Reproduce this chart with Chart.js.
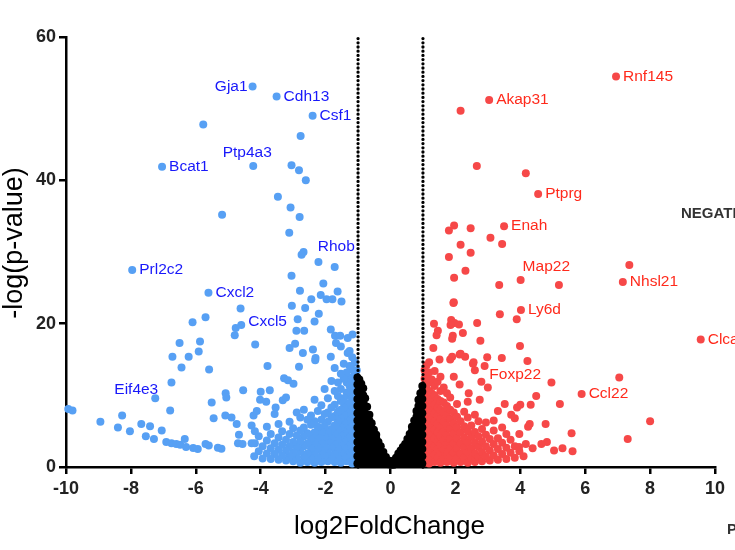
<!DOCTYPE html>
<html>
<head>
<meta charset="utf-8">
<script src="https://cdn.jsdelivr.net/npm/chart.js@4/dist/chart.umd.min.js"></script>
<style>
  html, body { margin: 0; padding: 0; background: #fff; }
  #wrap { width: 735px; height: 550px; }
</style>
</head>
<body>
<div id="wrap"><canvas id="volcano" width="735" height="550"></canvas></div>
<script>
// ---- data (log2FoldChange, -log(p-value)) ----
const xTicks = [-10, 10, 2];
const yTicks = [0, 60, 20];
const thresholds = [-1, 1];
const thresholdTop = 60;

// down-regulated, scattered points
const downPts = [
  [-4.25,53.1],[-3.51,51.7],[-2.40,49.0],[-5.77,47.8],[-2.77,46.2],[-7.04,41.9],[-4.23,42.0],
  [-3.05,42.1],[-2.82,41.4],[-2.61,40.0],[-3.47,37.7],[-5.19,35.2],[-3.08,36.2],[-2.80,34.9],
  [-3.12,32.7],[-2.68,30.0],[-2.74,29.6],[-2.22,28.6],[-1.72,27.9],[-7.96,27.5],[-3.05,26.7],
  [-2.07,25.6],[-5.61,24.3],[-2.79,24.6],[-1.63,24.5],[-2.15,24.0],[-1.97,23.4],[-1.79,23.4],
  [-2.44,23.4],[-1.51,23.1],[-3.04,22.5],[-2.63,22.2],[-4.62,22.1],[-2.21,21.4],[-5.70,20.9],
  [-6.10,20.2],[-2.86,20.6],[-2.34,20.3],[-4.60,19.8],[-4.77,19.4],[-4.80,18.4],[-1.84,19.2],
  [-2.90,19.0],[-2.66,19.0],[-1.71,18.3],[-1.55,18.3],[-1.17,18.5],[-5.87,17.5],[-6.50,17.3],
  [-4.17,17.1],[-2.94,17.2],[-3.11,16.6],[-2.70,15.9],[-2.39,16.4],[-2.31,15.2],[-1.84,15.4],
  [-1.32,15.9],[-1.53,16.8],[-1.68,17.3],[-1.32,18.0],[-2.32,14.9],[-2.82,14.0],
  [-5.91,16.1],[-6.22,15.4],[-6.72,15.4],[-6.44,13.9],[-5.59,13.6],[-3.79,14.1],[-6.75,11.8],
  [-3.28,12.4],[-3.16,12.1],[-2.99,11.6],[-3.32,9.3],[-3.54,8.3],
  [-7.25,9.6],[-6.79,7.9],[-5.51,9.0],[-5.45,6.8],[-5.08,10.3],[-5.06,9.7],[-4.54,10.7],
  [-4.00,10.5],[-3.72,10.7],[-4.02,9.4],[-3.83,9.1],[-5.09,7.2],[-4.90,6.9],[-4.74,6.0],
  [-4.67,4.5],[-4.70,3.3],[-4.56,3.2],[-4.28,3.3],[-4.18,3.3],[-4.28,5.8],[-4.18,5.0],
  [-4.22,7.2],[-4.12,7.8],[-9.93,8.1],[-9.80,7.9],[-8.94,6.3],[-8.27,7.2],[-8.40,5.5],
  [-8.03,5.0],[-7.68,6.0],[-7.41,5.7],[-7.54,4.3],[-7.29,3.9],[-7.05,5.1],[-6.91,3.5],
  [-6.75,3.3],[-6.60,3.2],[-6.48,3.1],[-6.34,3.9],[-6.30,2.8],[-6.08,2.65],[-5.94,2.5],
  [-5.70,3.2],[-5.60,3.0],[-5.32,2.7],[-5.21,2.55]
];
// down-regulated, dense part near the threshold: [log2FC, [-log p ...]]
const downCols = [
  [-1.04, [0.7,1.6,2.9,3.8,5.1,6.0,7.3,8.1,9.5,10.3,11.6,12.4,13.5]],
  [-1.10, [1.2,2.3,3.3,4.5,5.6,6.7,7.9,8.8,10.0,11.1,12.9,14.6]],
  [-1.18, [0.5,1.9,2.7,4.0,5.0,6.3,7.2,8.6,9.4,10.7,11.9,13.6,15.3]],
  [-1.26, [1.3,2.2,3.5,4.7,5.9,6.9,8.2,9.9,11.3,12.5,14.1,16.2]],
  [-1.35, [0.8,1.7,3.0,4.1,5.3,6.5,7.6,8.9,10.4,11.8,13.2]],
  [-1.44, [1.4,2.6,3.7,4.9,6.1,7.3,8.3,9.6,12.3,14.4]],
  [-1.53, [0.6,2.0,3.1,4.4,5.5,6.8,8.0,9.2,10.9,13.0]],
  [-1.62, [1.2,2.5,3.9,5.2,6.4,7.7,9.9,11.8]],
  [-1.72, [0.7,1.8,3.2,4.6,5.8,7.1,8.7,10.6,13.8]],
  [-1.82, [1.4,2.7,4.0,5.3,6.9,8.3,12.0]],
  [-1.93, [0.8,2.1,3.5,4.8,6.3,7.6,9.6]],
  [-2.03, [1.5,2.8,4.2,5.7,7.4,10.9]],
  [-2.13, [0.7,2.2,3.4,4.9,6.6,8.6]],
  [-2.24, [1.3,2.7,4.1,5.6,7.8]],
  [-2.34, [0.6,2.0,3.4,4.8,6.4,9.4]],
  [-2.45, [1.2,2.6,4.0,5.9,7.2]],
  [-2.56, [0.7,1.9,3.3,4.7,6.6]],
  [-2.67, [1.4,2.9,4.3,5.5,8.0]],
  [-2.78, [0.6,2.2,3.6,5.1,6.9]],
  [-2.89, [1.3,2.8,4.4,7.6]],
  [-3.00, [0.8,2.0,3.5,5.4]],
  [-3.11, [1.5,2.9,4.6,6.3]],
  [-3.22, [0.9,2.3,3.8,9.7]],
  [-3.34, [1.6,3.1,5.0]],
  [-3.45, [1.0,2.4,4.1,6.0]],
  [-3.57, [1.8,3.3,7.4]],
  [-3.69, [1.1,2.6,4.6]],
  [-3.81, [1.9,3.7,5.6]],
  [-3.94, [1.2,2.9]],
  [-4.06, [2.2,4.3]],
  [-4.20, [1.5]]
];

// up-regulated, scattered points
const upPts = [
  [6.95,54.5],[3.04,51.2],[2.16,49.7],[2.66,42.0],[4.17,41.0],[4.55,38.1],[1.96,33.7],
  [1.80,33.0],[2.47,33.3],[3.50,33.6],[3.08,32.0],[3.44,31.1],[2.16,31.0],[2.47,29.9],
  [1.80,29.3],[7.36,28.2],[2.31,27.4],[1.96,26.4],[4.01,26.1],[3.35,25.4],[5.19,25.4],
  [7.16,25.8],[1.95,23.0],[3.37,21.3],[4.02,21.9],[3.89,20.6],[9.56,17.8],[3.99,16.9],
  [4.22,14.8],[7.05,12.5],[4.96,11.8],[5.89,10.2],[4.49,9.9],[5.22,8.8],[8.00,6.4],
  [7.31,3.9],[5.58,4.7],[5.30,2.6],[5.04,2.3],[5.61,2.2],[4.78,6.0],[4.82,3.5],[4.65,3.2],
  [4.38,2.6],[4.29,6.0],[4.24,5.6],[4.17,3.2],[3.96,2.8],[4.00,8.7],[3.90,8.3],[4.32,8.7],
  [3.52,8.8],[3.72,7.3],[3.31,7.8],[3.43,15.2],[2.98,15.3],[3.00,11.1],[2.80,11.9],
  [2.75,9.4],[2.41,10.3],[2.67,20.1],[2.77,17.6],[2.54,14.4],[2.60,13.5],[2.90,14.1],
  [2.23,18.7],[2.13,15.7],[2.30,15.4],[2.13,11.5],[1.34,20.0],[1.46,19.0],[1.42,18.4],
  [1.32,16.6],[1.51,15.0],[1.87,20.5],[1.97,20.1],[1.85,19.8],[2.11,19.9],[1.92,18.3],
  [1.90,17.9],[1.84,15.0],[1.90,15.4],[1.94,22.9],[2.16,15.8],[2.56,14.6]
];
// up-regulated, dense part near the threshold
const upCols = [
  [1.05, [0.6,1.5,2.7,3.6,4.9,5.8,7.1,8.0,9.2,10.1,11.4,12.3,13.5]],
  [1.11, [1.1,2.2,3.2,4.3,5.4,6.5,7.6,8.7,9.8,11.0,12.8,14.2]],
  [1.19, [0.5,1.8,2.8,3.9,5.0,6.1,7.3,8.3,9.4,10.6,11.8,13.2,14.6]],
  [1.27, [1.2,2.3,3.4,4.6,5.7,6.8,7.9,9.1,10.3,12.2]],
  [1.36, [0.7,1.7,2.9,4.0,5.2,6.4,7.5,8.7,10.0,11.3,13.4]],
  [1.45, [1.3,2.5,3.6,4.8,6.0,7.1,8.3,9.5,11.9]],
  [1.54, [0.6,1.9,3.1,4.3,5.5,6.7,8.0,9.2,10.6,12.6]],
  [1.64, [1.2,2.4,3.7,5.0,6.3,7.6,9.0,11.1]],
  [1.74, [0.7,1.8,3.1,4.4,5.8,7.2,8.5,10.3]],
  [1.84, [1.3,2.6,3.9,5.3,6.7,8.0,9.7]],
  [1.95, [0.6,2.0,3.3,4.7,6.1,7.6,12.6]],
  [2.05, [1.2,2.6,4.0,5.5,7.0,8.8]],
  [2.16, [0.7,1.9,3.3,4.8,6.4]],
  [2.27, [1.3,2.7,4.1,5.7,7.7]],
  [2.38, [0.6,2.0,3.4,5.0,6.9,9.1]],
  [2.49, [1.2,2.6,4.2,5.8]],
  [2.60, [0.7,1.9,3.4,4.9,7.3]],
  [2.71, [1.4,2.8,4.3,6.4]],
  [2.82, [0.8,2.1,3.6,5.3]],
  [2.94, [1.5,2.9,4.5,6.2]],
  [3.06, [0.9,2.3,3.9]],
  [3.18, [1.6,3.2,5.1,6.5]],
  [3.31, [1.0,2.5,4.0]],
  [3.44, [1.8,3.4,5.5]],
  [3.57, [1.1,2.7,4.6]],
  [3.70, [2.0,3.8]],
  [3.83, [1.3,2.9,6.8]],
  [3.97, [2.2,4.6]],
  [4.10, [1.5]]
];

// not significant (black)
const nsCols = [
  [-1.02, [0.5,1.5,2.5,3.5,4.5,5.5,6.5,7.5,8.5,9.5,10.5,11.5,12.5]],
  [-0.96, [1.0,2.0,3.0,4.0,5.0,6.0,7.0,8.0,9.0,10.0,11.0,12.2]],
  [-0.90, [0.5,1.5,2.5,3.5,4.5,5.5,6.5,7.5,8.5,9.5,10.5,11.6]],
  [-0.84, [1.0,2.0,3.0,4.0,5.0,6.0,7.0,8.0,9.0,10.0,11.0]],
  [-0.78, [0.5,1.5,2.5,3.5,4.5,5.5,6.5,7.5,8.5,9.6]],
  [-0.72, [1.0,2.0,3.0,4.0,5.0,6.0,7.0,8.4]],
  [-0.65, [0.5,1.5,2.5,3.5,4.5,5.5,6.5,7.3]],
  [-0.58, [1.0,2.0,3.0,4.0,5.0,6.1]],
  [-0.51, [0.5,1.5,2.5,3.5,4.5,5.2]],
  [-0.44, [1.0,2.0,3.0,4.0,4.5]],
  [-0.37, [0.5,1.5,2.5,3.5]],
  [-0.30, [1.0,2.0,2.9]],
  [-0.22, [0.5,1.4,2.1]],
  [-0.14, [0.6,1.4]],
  [-0.06, [0.4,0.9]],
  [0.02, [0.3]],
  [0.10, [0.3,0.9]],
  [0.17, [0.5,1.3]],
  [0.24, [0.9,1.9]],
  [0.31, [0.5,1.4,2.3]],
  [0.38, [1.0,2.0,2.8]],
  [0.45, [0.5,1.5,2.5,3.2]],
  [0.52, [1.0,2.0,3.0,3.9]],
  [0.59, [0.5,1.5,2.5,3.5,4.6]],
  [0.66, [1.0,2.0,3.0,4.0,5.0,5.6]],
  [0.73, [0.5,1.5,2.5,3.5,4.5,5.5,6.5]],
  [0.80, [1.0,2.0,3.0,4.0,5.0,6.0,7.0,7.8]],
  [0.86, [0.5,1.5,2.5,3.5,4.5,5.5,6.5,7.5,8.5,9.4]],
  [0.92, [1.0,2.0,3.0,4.0,5.0,6.0,7.0,8.0,9.0,10.3]],
  [0.98, [0.5,1.5,2.5,3.5,4.5,5.5,6.5,7.5,8.5,9.5,10.5,11.3]]
];

// gene labels: [name, log2FC, -log p]
const downLabels = [
  ["Gja1",-4.25,53.1],["Cdh13",-3.51,51.7],["Csf1",-2.40,49.0],["Ptp4a3",-4.23,42.0],
  ["Bcat1",-7.04,41.9],["Rhob",-1.10,30.7],["Prl2c2",-7.96,27.5],["Cxcl2",-5.61,24.3],
  ["Cxcl5",-4.60,19.8],["Eif4e3",-7.25,9.6]
];
const upLabels = [
  ["Rnf145",6.95,54.5],["Akap31",3.04,51.2],["Ptprg",4.55,38.1],["Enah",3.50,33.6],
  ["Map22",4.01,26.1],["Nhsl21",7.16,25.8],["Ly6d",4.02,21.9],["Clca1",9.56,17.8],
  ["Foxp22",2.80,11.9],["Ccl22",5.89,10.2]
];

// ---- helpers ----
function fromPairs(p) { return p.map(function (d) { return { x: d[0], y: d[1] }; }); }
function fromCols(c) {
  let out = [];
  c.forEach(function (col) {
    col[1].forEach(function (y) { out.push({ x: col[0], y: y }); });
  });
  return out;
}

const FONT = "'Liberation Sans', Arial, Helvetica, sans-serif";
const BLUE = "#57a0f4";
const RED = "#f64848";

// label placement (pixel offsets from the point), default: right of the point
const labelPlace = {
  Gja1: { dx: -5, dy: 0, align: "right" },
  Ptp4a3: { dx: -6, dy: -13, align: "center" },
  Rhob: { dx: 0, dy: 0, align: "right" },
  Eif4e3: { dx: 3, dy: -8, align: "right" },
  Cxcl5: { dx: 7, dy: -3, align: "left" },
  Map22: { dx: 2, dy: -13, align: "left" },
  Foxp22: { dx: 8, dy: -7, align: "left" }
};

const labelPlugin = {
  id: "geneLabels",
  afterDatasetsDraw: function (chart) {
    const ctx = chart.ctx;
    const xs = chart.scales.x, ys = chart.scales.y;
    ctx.save();
    ctx.font = "15.5px " + FONT;
    ctx.textBaseline = "middle";
    function put(list, color) {
      ctx.fillStyle = color;
      list.forEach(function (l) {
        const p = labelPlace[l[0]] || { dx: 7, dy: 0, align: "left" };
        ctx.textAlign = p.align;
        ctx.fillText(l[0], xs.getPixelForValue(l[1]) + p.dx, ys.getPixelForValue(l[2]) + p.dy);
      });
    }
    put(downLabels, "#1818fa");
    put(upLabels, "#ff2a1c");

    // axis titles
    ctx.fillStyle = "#000";
    ctx.font = "26px " + FONT;
    ctx.textAlign = "center";
    ctx.fillText("log2FoldChange", (xs.left + xs.right) / 2 - 1, 527);
    ctx.save();
    ctx.translate(15, 243);
    ctx.rotate(-Math.PI / 2);
    ctx.font = "27px " + FONT;
    ctx.fillText("-log(p-value)", 0, 0);
    ctx.restore();

    // legend text running off the right edge
    ctx.fillStyle = "#333";
    ctx.font = "bold 15px " + FONT;
    ctx.textAlign = "left";
    ctx.fillText("NEGATIVE", 681, 214);
    ctx.fillText("POSITIVE", 727, 530);
    ctx.restore();
  }
};

const ptStyle = { pointRadius: 4, pointHoverRadius: 4, borderWidth: 0, clip: false };

const datasets = [
  Object.assign({ label: "ns", data: fromCols(nsCols), backgroundColor: "#000", order: 0 }, ptStyle),
  Object.assign({ label: "down", data: fromPairs(downPts).concat(fromCols(downCols)), backgroundColor: BLUE, order: 2 }, ptStyle),
  Object.assign({ label: "up", data: fromPairs(upPts).concat(fromCols(upCols)), backgroundColor: RED, order: 2 }, ptStyle)
];
thresholds.forEach(function (t) {
  datasets.push({
    label: "cut " + t,
    data: [{ x: t, y: 0 }, { x: t, y: thresholdTop }],
    showLine: true,
    pointRadius: 0,
    borderColor: "#000",
    borderWidth: 3.3,
    borderDash: [0, 4.2],
    borderCapStyle: "round",
    clip: false,
    order: 1
  });
});

const axisTicks = { font: { family: FONT, size: 18, weight: "bold" }, color: "#222" };

new Chart(document.getElementById("volcano"), {
  type: "scatter",
  data: { datasets: datasets },
  options: {
    responsive: false,
    animation: false,
    devicePixelRatio: 1,
    layout: { padding: { left: 0, right: 20, top: 37, bottom: 0 } },
    plugins: { legend: { display: false }, tooltip: { enabled: false } },
    scales: {
      x: {
        type: "linear",
        min: xTicks[0], max: xTicks[1],
        ticks: Object.assign({ stepSize: xTicks[2], autoSkip: false, padding: 4, maxRotation: 0 }, axisTicks),
        grid: { drawOnChartArea: false, tickLength: 7, color: "#000", lineWidth: 2.5 },
        border: { color: "#000", width: 2.5 },
        afterFit: function (s) { s.height = 83; }
      },
      y: {
        min: yTicks[0], max: yTicks[1],
        ticks: Object.assign({ stepSize: yTicks[2], padding: 3 }, axisTicks),
        grid: { drawOnChartArea: false, tickLength: 7, color: "#000", lineWidth: 2.5 },
        border: { color: "#000", width: 2.5 },
        afterFit: function (s) { s.width = 66; }
      }
    }
  },
  plugins: [labelPlugin]
});
</script>
</body>
</html>
